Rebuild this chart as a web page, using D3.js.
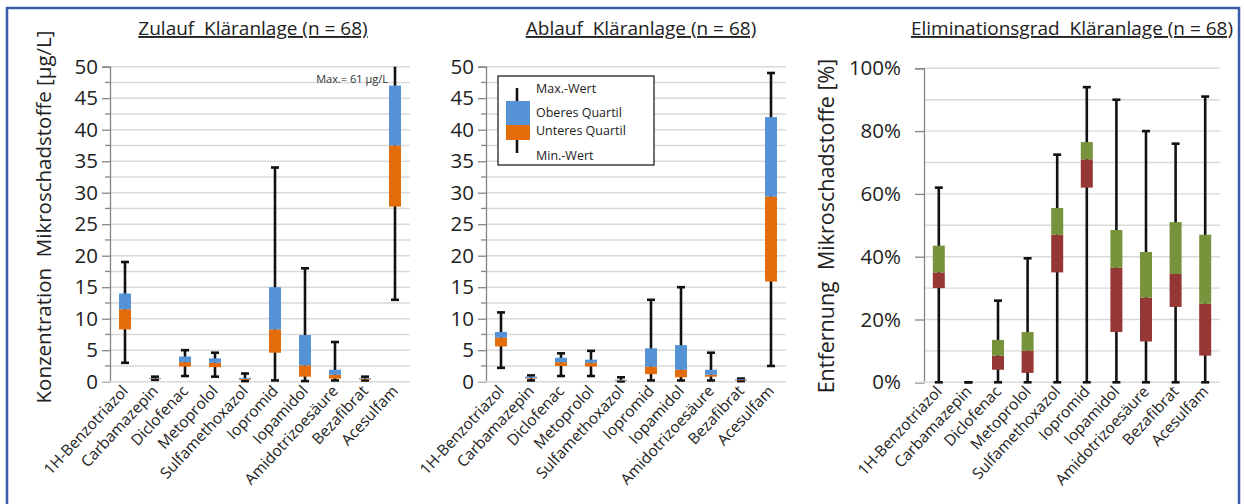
<!DOCTYPE html>
<html><head><meta charset="utf-8">
<script src="https://cdn.jsdelivr.net/npm/d3@7"></script>
<style>
body{margin:0;background:#fff;}
svg text{font-family:"Open Sans",Lato,sans-serif;white-space:pre;}
</style></head>
<body><svg id="c" width="1244" height="504"></svg>
<script>
const categories = ["1H-Benzotriazol","Carbamazepin","Diclofenac","Metoprolol","Sulfamethoxazol","Iopromid","Iopamidol","Amidotrizoesäure","Bezafibrat","Acesulfam"];

// Zulauf (µg/L)
const zulaufMin    = [3.0, 0.3, 0.9, 0.8, 0.1, 0.2, 0.1, 0.2, 0.2, 13.0];
const zulaufQ1     = [8.3, 0.4, 2.4, 2.3, 0.3, 4.6, 0.8, 0.5, 0.35, 27.8];
const zulaufMedian = [11.5, 0.5, 3.1, 3.0, 0.45, 8.3, 2.6, 1.1, 0.5, 37.5];
const zulaufQ3     = [14.0, 0.6, 4.0, 3.7, 0.6, 15.0, 7.4, 1.9, 0.6, 47.0];
const zulaufMax    = [19.0, 0.8, 5.0, 4.6, 1.3, 34.0, 18.0, 6.3, 0.8, 61.0];

// Ablauf (µg/L)
const ablaufMin    = [2.2, 0.2, 0.9, 0.9, 0.05, 0.2, 0.2, 0.2, 0.1, 2.5];
const ablaufQ1     = [5.6, 0.5, 2.5, 2.4, 0.1, 1.2, 0.7, 0.8, 0.2, 15.9];
const ablaufMedian = [7.0, 0.6, 3.1, 3.0, 0.2, 2.4, 1.9, 1.1, 0.3, 29.4];
const ablaufQ3     = [7.9, 0.8, 3.8, 3.5, 0.3, 5.3, 5.8, 1.9, 0.4, 42.0];
const ablaufMax    = [11.0, 1.0, 4.5, 4.9, 0.7, 13.0, 15.0, 4.6, 0.5, 49.0];

// Eliminationsgrad (%)
const elimMin    = [0, 0, 0, 0, 0, 0, 0, 0, 0, 0];
const elimQ1     = [30, 0, 4, 3, 35, 62, 16, 13, 24, 8.5];
const elimMedian = [35, 0, 8.5, 10, 47, 71, 36.5, 27, 34.5, 25];
const elimQ3     = [43.5, 0, 13.5, 16, 55.5, 76.5, 48.5, 41.5, 51, 47];
const elimMax    = [62, 0, 26, 39.5, 72.5, 94, 90, 80, 76, 91];

const concTicks = [0,5,10,15,20,25,30,35,40,45,50];
const elimTicks = [0,20,40,60,80,100];

const svg = d3.select("#c");

// outer frame
svg.append("rect").attr("x",7).attr("y",8).attr("width",1232).attr("height",510)
  .attr("fill","none").attr("stroke","#3a5ea6").attr("stroke-width",2.5);

function panel(cfg){
  const g = svg.append("g");
  const x = d3.scaleBand().domain(categories).range([cfg.x0, cfg.x1]);
  const y = d3.scaleLinear().domain([0, cfg.ymax]).range([cfg.yb, cfg.yt]);
  const cl = v => Math.min(v, cfg.ymax);
  // gridlines
  g.append("g").selectAll("line").data(d3.range(cfg.minorStep, cfg.ymax + 1e-9, cfg.minorStep))
    .join("line").attr("x1",cfg.x0).attr("x2",cfg.x1)
    .attr("y1",d=>y(d)).attr("y2",d=>y(d)).attr("stroke","#d9d9d9").attr("stroke-width",1.4);
  // axis
  const ax = g.append("g").attr("transform",`translate(${cfg.x0},0)`)
    .call(d3.axisLeft(y).tickValues(cfg.ticks).tickSize(cfg.tickSize).tickPadding(cfg.tickPad).tickFormat(cfg.fmt));
  ax.select(".domain").attr("stroke","#868686").attr("stroke-width",1.3);
  ax.selectAll(".tick line").attr("stroke","#868686").attr("stroke-width",1.3);
  ax.selectAll(".tick text").attr("fill","#222").style("font-size","20.5px").style("font-family","'Open Sans',Lato,sans-serif");
  if (cfg.minorTicks){
    g.append("g").selectAll("line").data(d3.range(cfg.minorStep, cfg.ymax, cfg.minorStep*2))
      .join("line").attr("x1",cfg.x0-5).attr("x2",cfg.x0)
      .attr("y1",d=>y(d)).attr("y2",d=>y(d)).attr("stroke","#868686").attr("stroke-width",1.3);
  }
  // bottom axis line
  g.append("line").attr("x1",cfg.x0-cfg.tickSize).attr("x2",cfg.x1).attr("y1",cfg.yb).attr("y2",cfg.yb)
    .attr("stroke","#d9d9d9").attr("stroke-width",1.4);
  const bw = 12, cap = 8;
  const idx = d3.range(categories.length);
  const cx = i => x(categories[i]) + x.bandwidth()/2;
  // whiskers
  g.append("g").selectAll("line").data(idx).join("line")
    .attr("x1",cx).attr("x2",cx).attr("y1",i=>y(cl(cfg.max[i]))).attr("y2",i=>y(cfg.min[i]))
    .attr("stroke","#111").attr("stroke-width",2.6);
  g.append("g").selectAll("line").data(idx.filter(i=>cfg.max[i]<=cfg.ymax)).join("line")
    .attr("x1",i=>cx(i)-cap/2).attr("x2",i=>cx(i)+cap/2).attr("y1",i=>y(cfg.max[i])).attr("y2",i=>y(cfg.max[i]))
    .attr("stroke","#111").attr("stroke-width",2.6);
  g.append("g").selectAll("line").data(idx).join("line")
    .attr("x1",i=>cx(i)-cap/2).attr("x2",i=>cx(i)+cap/2).attr("y1",i=>y(cfg.min[i])).attr("y2",i=>y(cfg.min[i]))
    .attr("stroke","#111").attr("stroke-width",2.6);
  // boxes
  g.append("g").selectAll("rect").data(idx).join("rect")
    .attr("x",i=>cx(i)-bw/2).attr("width",bw)
    .attr("y",i=>y(Math.max(cfg.q1[i], cfg.med[i]))).attr("height",i=>Math.abs(y(cfg.q1[i])-y(cfg.med[i])))
    .attr("fill",cfg.lowColor);
  g.append("g").selectAll("rect").data(idx).join("rect")
    .attr("x",i=>cx(i)-bw/2).attr("width",bw)
    .attr("y",i=>y(cfg.q3[i])).attr("height",i=>Math.abs(y(cfg.med[i])-y(cfg.q3[i])))
    .attr("fill",cfg.upColor);
  // x labels
  g.append("g").selectAll("text").data(idx).join("text")
    .attr("transform",i=>`translate(${cx(i)+4},${cfg.yb+10}) rotate(-47)`)
    .attr("text-anchor","end").attr("fill","#222").style("font-size","15.5px")
    .text(i=>categories[i]);
  // title
  g.append("text").attr("x",cfg.titleX).attr("y",35).attr("text-anchor","middle")
    .attr("fill","#222").style("font-size","19px").style("text-decoration","underline").text(cfg.title);
  // y label
  if (cfg.ylabel){
    g.append("text").attr("transform",`translate(${cfg.ylabelX},${cfg.ylabelY}) rotate(-90)`)
      .attr("text-anchor","middle").attr("fill","#222").style("font-size",cfg.ylabelSize).text(cfg.ylabel);
  }
  return {x,y,g,cx};
}

const p1 = panel({x0:110,x1:410,yt:66.7,yb:381.7,ymax:50,ticks:concTicks,minorStep:2.5,minorTicks:true,fmt:d3.format("d"),
  tickSize:8,tickPad:4,
  min:zulaufMin,q1:zulaufQ1,med:zulaufMedian,q3:zulaufQ3,max:zulaufMax,lowColor:"#e46c0a",upColor:"#5592d6",
  title:"Zulauf  Kläranlage (n = 68)",titleX:253,ylabel:"Konzentration  Mikroschadstoffe [µg/L]",ylabelX:51,ylabelY:217,ylabelSize:"20.5px"});
p1.g.append("text").attr("x",p1.cx(9)-7).attr("y",p1.y(47.4)).attr("text-anchor","end")
  .attr("fill","#333").style("font-size","11px").text("Max.= " + zulaufMax[9] + " µg/L");

const p2 = panel({x0:486,x1:786,yt:66.7,yb:381.7,ymax:50,ticks:concTicks,minorStep:2.5,minorTicks:true,fmt:d3.format("d"),
  tickSize:8,tickPad:4,
  min:ablaufMin,q1:ablaufQ1,med:ablaufMedian,q3:ablaufQ3,max:ablaufMax,lowColor:"#e46c0a",upColor:"#5592d6",
  title:"Ablauf  Kläranlage (n = 68)",titleX:641});

const p3 = panel({x0:924,x1:1220,yt:68.3,yb:382.3,ymax:100,ticks:elimTicks,minorStep:10,minorTicks:false,fmt:d=>d+"%",
  tickSize:9,tickPad:14,
  min:elimMin,q1:elimQ1,med:elimMedian,q3:elimQ3,max:elimMax,lowColor:"#953735",upColor:"#77933c",
  title:"Eliminationsgrad  Kläranlage (n = 68)",titleX:1072,ylabel:"Entfernung  Mikroschadstoffe [%]",ylabelX:834,ylabelY:226,ylabelSize:"21.5px"});

// legend
const lg = svg.append("g");
lg.append("rect").attr("x",498).attr("y",76).attr("width",156).attr("height",89)
  .attr("fill","#fff").attr("stroke","#222").attr("stroke-width",1.3);
lg.append("line").attr("x1",517).attr("x2",517).attr("y1",88).attr("y2",153).attr("stroke","#111").attr("stroke-width",2.6);
lg.append("rect").attr("x",506).attr("y",101).attr("width",24).attr("height",24).attr("fill","#5592d6");
lg.append("rect").attr("x",506).attr("y",125).attr("width",24).attr("height",15).attr("fill","#e46c0a");
const legTexts = [["Max.-Wert",93],["Oberes Quartil",117],["Unteres Quartil",135],["Min.-Wert",160]];
lg.selectAll("text.l").data(legTexts).join("text").attr("x",536).attr("y",d=>d[1])
  .attr("fill","#222").style("font-size","12.5px").text(d=>d[0]);
</script></body></html>
